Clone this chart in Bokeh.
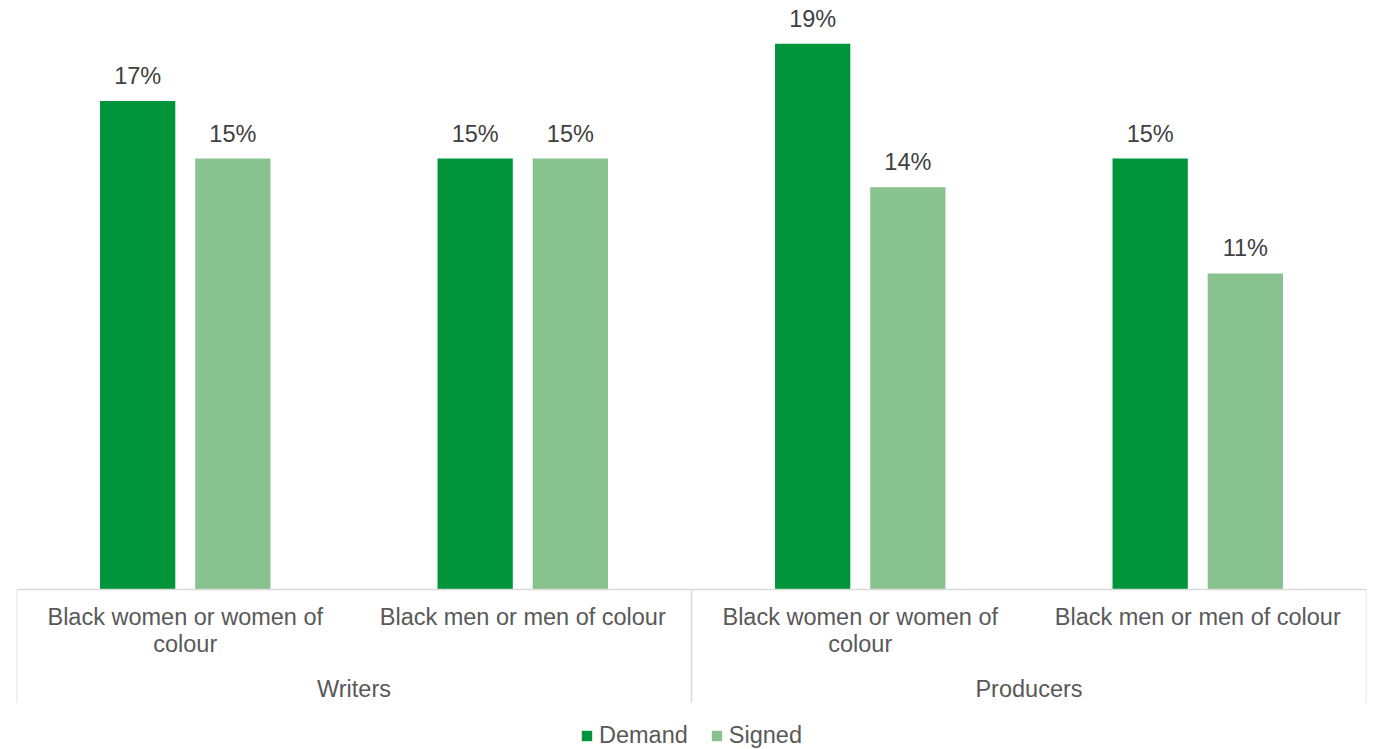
from bokeh.plotting import figure
from bokeh.models import FactorRange, ColumnDataSource, Legend, LegendItem, Range1d
from bokeh.transform import dodge
from bokeh.core.properties import value
from bokeh.embed import file_html
from bokeh.resources import INLINE

# ---- data ----
groups = ["Writers", "Producers"]
categories = ["Black women or women of colour", "Black men or men of colour"]
category_labels = ["Black women or women of\ncolour", "Black men or men of colour"]
series = ["Demand", "Signed"]
demand = [17, 15, 19, 15]
signed = [15, 15, 14, 11]

# ---- style ----
colors = ["#00953A", "#88C28F"]
FONT = value("Liberation Sans")
FS = "23.5px"
GRAY_TXT = "#595959"
LABEL_TXT = "#404040"
LINE = "#D9D9D9"

factors = [(g, c) for g in groups for c in categories]

W, H = 1373, 749
PX = 28.73                      # pixels per percentage point
BASE = 589                      # pixel row of the zero line
Y1 = BASE / PX
Y0 = -(H - BASE) / PX

p = figure(
    width=W, height=H,
    x_range=FactorRange(*factors, range_padding=0, group_padding=0, factor_padding=0),
    y_range=Range1d(Y0, Y1),
    x_axis_location=None, y_axis_location=None,
    output_backend="svg", toolbar_location=None,
    min_border_left=16, min_border_right=7, min_border_top=0, min_border_bottom=0,
)
p.grid.visible = False
p.outline_line_color = None
p.background_fill_color = "white"
p.border_fill_color = "white"

src = ColumnDataSource(dict(
    x=factors, demand=demand, signed=signed,
    dl=[f"{v}%" for v in demand], sl=[f"{v}%" for v in signed],
))

OFF = 0.141
BW = 0.223
r1 = p.vbar(x=dodge("x", -OFF, range=p.x_range), top="demand", width=BW, source=src,
            fill_color=colors[0], line_color=None)
r2 = p.vbar(x=dodge("x", OFF, range=p.x_range), top="signed", width=BW, source=src,
            fill_color=colors[1], line_color=None)

for col, lab, off in (("demand", "dl", -OFF), ("signed", "sl", OFF)):
    p.text(x=dodge("x", off, range=p.x_range), y=col, text=lab,
           source=src, text_align="center", text_baseline="middle", y_offset=-25,
           text_font=FONT, text_font_size=FS, text_color=LABEL_TXT)

# axis baseline and group dividers
n = len(factors)
p.segment(x0=[0], y0=[0], x1=[n], y1=[0], line_color=LINE, line_width=1.5)
bounds = [i * len(categories) for i in range(len(groups) + 1)]
p.segment(x0=bounds, y0=[0] * len(bounds), x1=bounds, y1=[-113 / PX] * len(bounds),
          line_color=LINE, line_width=1.5)

# category labels
cat_src = ColumnDataSource(dict(x=factors, t=category_labels * len(groups)))
p.text(x="x", y=0, text="t", source=cat_src, text_align="center", text_baseline="top",
       y_offset=14, text_font=FONT, text_font_size=FS, text_color=GRAY_TXT, text_line_height=1.05)

# group labels
grp_src = ColumnDataSource(dict(x=groups, t=groups))
p.text(x="x", y=0, text="t", source=grp_src, text_align="center", text_baseline="middle",
       y_offset=99, text_font=FONT, text_font_size=FS, text_color=GRAY_TXT)

legend = Legend(
    items=[LegendItem(label=series[0], renderers=[r1]), LegendItem(label=series[1], renderers=[r2])],
    orientation="horizontal", location="bottom_center",
    label_text_font="Liberation Sans", label_text_font_size=FS, label_text_color=GRAY_TXT,
    glyph_width=13, glyph_height=13, label_standoff=6, spacing=22,
    padding=0, margin=0, border_line_color=None, background_fill_alpha=0,
)
p.add_layout(legend)

open("out.html", "w").write(file_html(p, INLINE))
